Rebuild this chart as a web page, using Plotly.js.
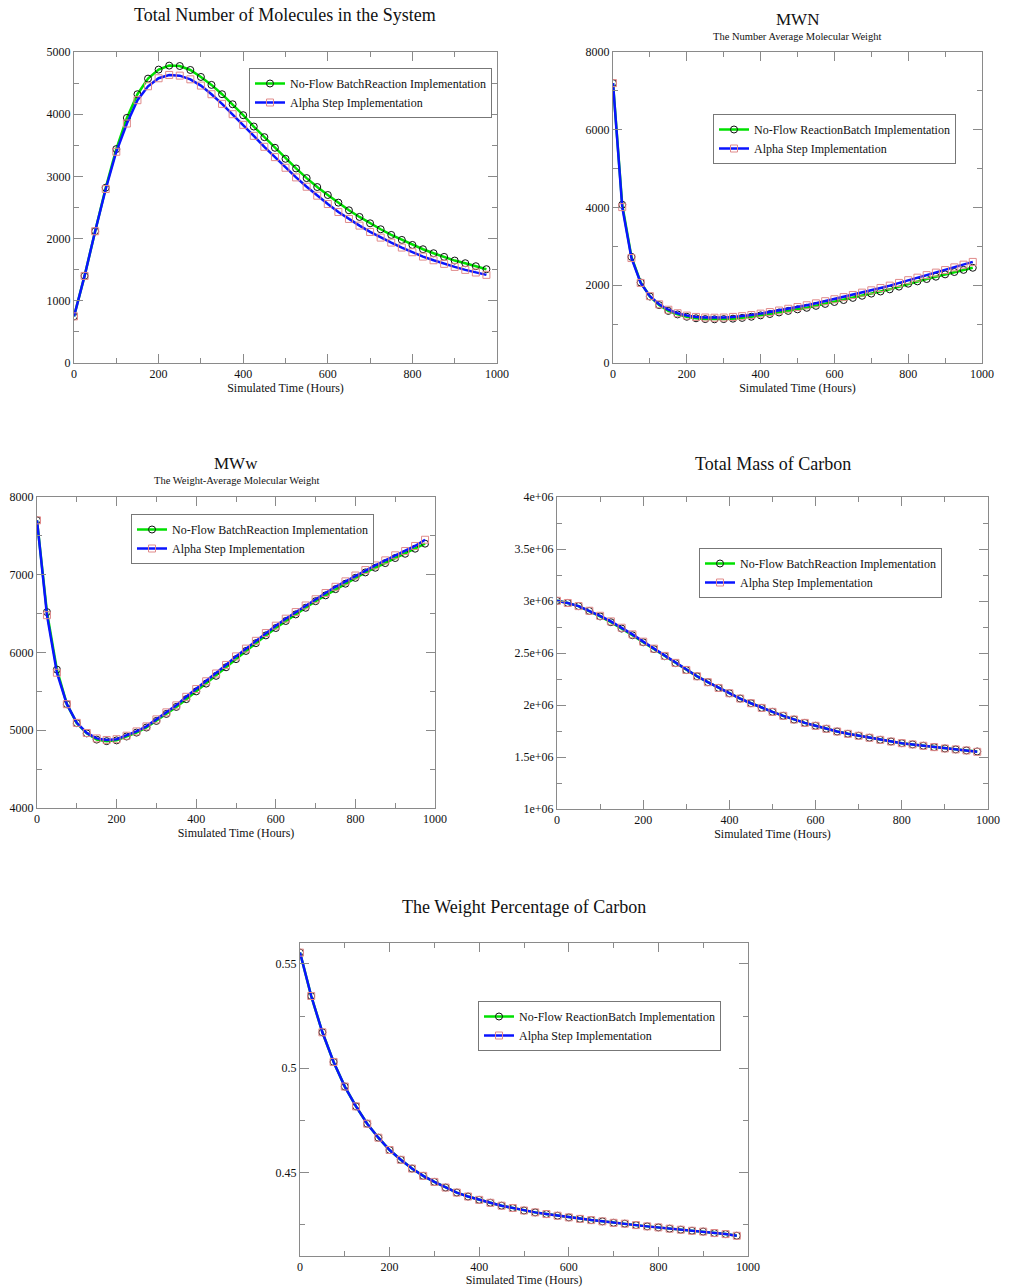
<!DOCTYPE html>
<html>
<head>
<meta charset="utf-8">
<script src="https://cdn.plot.ly/plotly-3.0.1.min.js"></script>
<style>html,body{margin:0;padding:0;background:#fff;}#chart{width:1019px;height:1287px;}</style>
</head>
<body>
<div id="chart"></div>
<script>
// ---------- DATA ----------
var timeHours = [0,25,50,75,100,125,150,175,200,225,250,275,300,325,350,375,400,425,450,475,500,525,550,575,600,625,650,675,700,725,750,775,800,825,850,875,900,925,950,975];

var moleculesBatch = [750,1400,2118,2818,3439,3941,4321,4572,4717,4781,4775,4711,4599,4471,4321,4160,3984,3802,3631,3460,3283,3128,2973,2829,2701,2578,2455,2348,2246,2150,2059,1979,1898,1829,1765,1706,1647,1604,1556,1508];
var moleculesAlpha = [750,1400,2118,2797,3396,3850,4225,4449,4578,4631,4620,4561,4460,4321,4166,4000,3829,3652,3476,3310,3139,2984,2834,2690,2556,2428,2316,2209,2107,2016,1936,1856,1781,1711,1652,1594,1545,1497,1455,1417];

var mwnBatch = [7200,4070,2730,2070,1710,1490,1340,1250,1190,1150,1130,1125,1130,1140,1160,1190,1225,1260,1300,1340,1380,1420,1470,1520,1570,1620,1675,1730,1785,1840,1895,1965,2040,2100,2160,2220,2280,2340,2395,2450];
var mwnAlpha = [7200,4010,2700,2060,1720,1510,1370,1280,1220,1185,1170,1165,1170,1185,1205,1235,1270,1310,1350,1395,1440,1485,1535,1590,1640,1695,1750,1810,1870,1930,1990,2060,2130,2195,2260,2325,2390,2460,2530,2600];

var mwwBatch = [7700,6520,5780,5335,5091,4960,4880,4860,4870,4920,4970,5035,5120,5210,5300,5400,5500,5600,5700,5810,5915,6020,6120,6220,6315,6405,6490,6575,6660,6735,6815,6885,6960,7030,7090,7150,7215,7270,7335,7400];
var mwwAlpha = [7700,6480,5740,5335,5095,4965,4895,4875,4885,4930,4985,5050,5140,5230,5320,5430,5530,5630,5730,5840,5950,6050,6150,6250,6345,6435,6520,6605,6685,6765,6845,6915,6990,7060,7120,7185,7250,7305,7370,7450];

var carbonBatch = [3002000,2981000,2951000,2904000,2852000,2796000,2735000,2671000,2603000,2537000,2469000,2403000,2336000,2276000,2219000,2164000,2113000,2062000,2017000,1972000,1934000,1896000,1860000,1828000,1800000,1771000,1745000,1723000,1704000,1685000,1665000,1649000,1633000,1621000,1608000,1595000,1582000,1573000,1563000,1553000];
var carbonAlpha = [3002000,2981000,2951000,2906000,2858000,2804000,2743000,2679000,2609000,2542000,2472000,2405000,2337000,2276000,2219000,2164000,2113000,2062000,2017000,1972000,1934000,1896000,1860000,1828000,1800000,1771000,1745000,1723000,1704000,1685000,1665000,1649000,1633000,1621000,1608000,1595000,1582000,1573000,1563000,1550000];

var wtPctBatch = [0.5554,0.5346,0.5172,0.5030,0.4912,0.4817,0.4734,0.4667,0.4608,0.4561,0.4519,0.4484,0.4455,0.4428,0.4404,0.4385,0.4369,0.4355,0.4341,0.4330,0.4318,0.4309,0.4301,0.4293,0.4285,0.4278,0.4272,0.4266,0.4259,0.4255,0.4248,0.4242,0.4237,0.4231,0.4226,0.4221,0.4217,0.4210,0.4205,0.4197];
var wtPctAlpha = [0.5554,0.5346,0.5172,0.5030,0.4912,0.4817,0.4734,0.4667,0.4608,0.4561,0.4519,0.4484,0.4455,0.4428,0.4404,0.4385,0.4369,0.4355,0.4341,0.4330,0.4318,0.4309,0.4301,0.4293,0.4285,0.4278,0.4272,0.4266,0.4259,0.4255,0.4248,0.4242,0.4237,0.4231,0.4226,0.4221,0.4217,0.4210,0.4205,0.4197];

var carbonTickVals = [1000000,1500000,2000000,2500000,3000000,3500000,4000000];
var carbonTickText = ["1e+06","1.5e+06","2e+06","2.5e+06","3e+06","3.5e+06","4e+06"];
var wtPctTickVals = [0.45,0.5,0.55];
var wtPctTickText = ["0.45","0.5","0.55"];

var legendBatchA = "No-Flow BatchReaction Implementation";
var legendBatchB = "No-Flow ReactionBatch Implementation";
var legendAlpha = "Alpha Step Implementation";

// ---------- BUILD ----------
var W = 1019, H = 1287;
var FONT = "Liberation Serif, Times New Roman, serif";
function px(x){return x/W;}
function py(y){return 1 - y/H;}

function greenTrace(y, name, idx){
  return {x: timeHours, y: y, name: name, type:'scatter', mode:'lines+markers',
    xaxis: idx===1?'x':'x'+idx, yaxis: idx===1?'y':'y'+idx,
    legend: idx===1?'legend':'legend'+idx,
    line:{color:'#00e000', width:2.5},
    marker:{symbol:'circle-open', size:7, color:'#111', line:{width:1, color:'#111'}}};
}
function blueTrace(y, name, idx){
  return {x: timeHours, y: y, name: name, type:'scatter', mode:'lines+markers',
    xaxis: idx===1?'x':'x'+idx, yaxis: idx===1?'y':'y'+idx,
    legend: idx===1?'legend':'legend'+idx,
    line:{color:'#0a14ff', width:2.5},
    marker:{symbol:'square-open', size:7, color:'#e08a8a', line:{width:1, color:'#e08a8a'}}};
}

var data = [
  greenTrace(moleculesBatch, legendBatchA, 1), blueTrace(moleculesAlpha, legendAlpha, 1),
  greenTrace(mwnBatch, legendBatchB, 2), blueTrace(mwnAlpha, legendAlpha, 2),
  greenTrace(mwwBatch, legendBatchA, 3), blueTrace(mwwAlpha, legendAlpha, 3),
  greenTrace(carbonBatch, legendBatchA, 4), blueTrace(carbonAlpha, legendAlpha, 4),
  greenTrace(wtPctBatch, legendBatchB, 5), blueTrace(wtPctAlpha, legendAlpha, 5)
];

function baseAxis(extra){
  var a = {showline:true, linecolor:'#8a8a8a', linewidth:1, mirror:'ticks',
    ticks:'inside', ticklen:9, tickwidth:1, tickcolor:'#8a8a8a',
    showgrid:false, zeroline:false,
    tickfont:{family:FONT, size:12, color:'#111'},
    minor:{ticks:'inside', ticklen:5, tickwidth:1, tickcolor:'#8a8a8a', showgrid:false}};
  for (var k in extra){ a[k] = extra[k]; }
  return a;
}
function xAxis(l, r, anchor){
  var a = baseAxis({domain:[px(l), px(r)], range:[0,1000], dtick:200, tick0:0, anchor:anchor,
    title:{text:'Simulated Time (Hours)', font:{family:FONT, size:12, color:'#111'}, standoff:2}});
  a.minor.dtick = 100;
  return a;
}
function yAxis(top, bottom, range, dtick, minorDtick, anchor, extra){
  var a = baseAxis({domain:[py(bottom), py(top)], range:range, dtick:dtick, anchor:anchor});
  a.minor.dtick = minorDtick;
  if (extra){ for (var k in extra){ a[k] = extra[k]; } }
  return a;
}
function legendAt(l, t){
  return {x:px(l), y:py(t), xanchor:'left', yanchor:'top', bgcolor:'#fff',
    bordercolor:'#777', borderwidth:1, font:{family:FONT, size:12, color:'#111'},
    tracegroupgap:0, itemwidth:30};
}
function titleAnn(text, x, y, size){
  return {text:text, xref:'paper', yref:'paper', x:px(x), y:py(y), xanchor:'center', yanchor:'middle',
    showarrow:false, font:{family:FONT, size:size, color:'#111'}};
}

var layout = {
  width:W, height:H, margin:{l:0, r:0, t:0, b:0},
  paper_bgcolor:'#fff', plot_bgcolor:'#fff', showlegend:true,
  font:{family:FONT, color:'#111'},
  xaxis: xAxis(74, 497, 'y'),
  yaxis: yAxis(52, 363, [0,5000], 1000, 500, 'x'),
  xaxis2: xAxis(613, 982, 'y2'),
  yaxis2: yAxis(52, 363, [0,8000], 2000, 1000, 'x2'),
  xaxis3: xAxis(37, 435, 'y3'),
  yaxis3: yAxis(497, 808, [4000,8000], 1000, 500, 'x3'),
  xaxis4: xAxis(557, 988, 'y4'),
  yaxis4: yAxis(497, 809, [1000000,4000000], 500000, 250000, 'x4', {tickmode:'array', tickvals:carbonTickVals, ticktext:carbonTickText}),
  xaxis5: xAxis(300, 748, 'y5'),
  yaxis5: yAxis(943, 1256, [0.41,0.56], 0.05, 0.025, 'x5', {tickmode:'array', tickvals:wtPctTickVals, ticktext:wtPctTickText}),
  legend: legendAt(249, 68),
  legend2: legendAt(713, 114),
  legend3: legendAt(131, 514),
  legend4: legendAt(699, 548),
  legend5: legendAt(478, 1001),
  annotations: [
    titleAnn('Total Number of Molecules in the System', 285, 15, 18),
    titleAnn('MWN', 797, 19, 17),
    titleAnn('The Number Average Molecular Weight', 797, 36, 10.5),
    titleAnn('MWw', 236, 464, 17),
    titleAnn('The Weight-Average Molecular Weight', 236, 481, 10.5),
    titleAnn('Total Mass of Carbon', 773, 464, 18),
    titleAnn('The Weight Percentage of Carbon', 524, 907, 18)
  ]
};

Plotly.newPlot('chart', data, layout, {displayModeBar:false, staticPlot:true});
</script>
</body>
</html>
